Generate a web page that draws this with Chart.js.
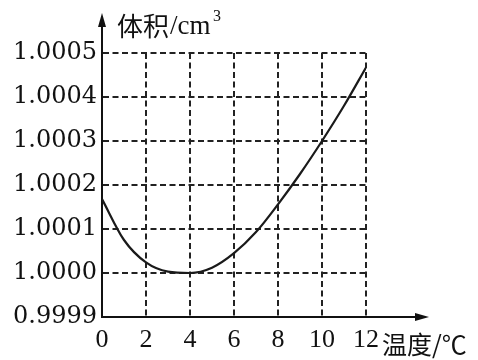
<!DOCTYPE html>
<html>
<head>
<meta charset="utf-8">
<script src="https://cdn.jsdelivr.net/npm/chart.js@4/dist/chart.umd.min.js"></script>
<style>
  body { margin: 0; background: #fff; }
  canvas { display: block; }
</style>
</head>
<body>
<canvas id="myChart" width="478" height="360"></canvas>
<script>
"use strict";

// temperature (°C) and volume (cm³)
var temps = [0, 1, 2, 3, 4, 5, 6, 7, 8, 9, 10, 11, 12];
var volumes = [1.000168, 1.000075, 1.000024, 1.000003, 1.0000, 1.000012, 1.000045,
               1.000093, 1.000156, 1.000225, 1.0003, 1.00038, 1.000467];
var xTicks = [0, 2, 4, 6, 8, 10, 12];
var yTicks = [0.9999, 1.0000, 1.0001, 1.0002, 1.0003, 1.0004, 1.0005];
var yTickLabels = ['0.9999', '1.0000', '1.0001', '1.0002', '1.0003', '1.0004', '1.0005'];
var yTitle = '体积/cm';
var xTitle = '温度/℃';

var axisExtras = {
    id: 'axisExtras',
    afterDraw: function (chart) {
        var c = chart.ctx;
        var a = chart.chartArea;
        c.save();
        c.strokeStyle = '#111';
        c.fillStyle = '#111';
        c.lineWidth = 2;
        // y arrow
        c.beginPath();
        c.moveTo(a.left, a.top);
        c.lineTo(a.left, 22);
        c.stroke();
        c.beginPath();
        c.moveTo(a.left, 13);
        c.lineTo(a.left - 4, 27);
        c.lineTo(a.left + 4, 27);
        c.closePath();
        c.fill();
        // x arrow
        c.beginPath();
        c.moveTo(a.right, a.bottom);
        c.lineTo(420, a.bottom);
        c.stroke();
        c.beginPath();
        c.moveTo(429, a.bottom);
        c.lineTo(415, a.bottom - 4);
        c.lineTo(415, a.bottom + 4);
        c.closePath();
        c.fill();
        // titles
        c.textBaseline = 'middle';
        c.textAlign = 'left';
        c.font = '26px "Noto Sans CJK SC"';
        c.fillText('体积', 117, 26);
        c.font = '27px "Liberation Serif"';
        c.fillText('/cm', 170, 27);
        c.font = '16px "Liberation Serif"';
        c.fillText('3', 213, 17);
        c.font = '25px "Noto Sans CJK SC"';
        c.fillText(xTitle, 382, 344);
        c.restore();
    }
};

var ctx = document.querySelector('#myChart').getContext('2d');

var myChart = new Chart(ctx, {
    type: 'line',
    data: {
        labels: temps,
        datasets: [{
            data: temps.map(function (t, i) { return { x: t, y: volumes[i] }; }),
            borderColor: '#1a1a1a',
            borderWidth: 2.2,
            pointRadius: 0,
            cubicInterpolationMode: 'monotone',
            fill: false
        }]
    },
    options: {
        responsive: false,
        animation: false,
        layout: {
            padding: { left: 0, right: 112, top: 53, bottom: 0 }
        },
        plugins: {
            legend: false,
            tooltip: { enabled: false }
        },
        scales: {
            x: {
                type: 'linear',
                min: 0,
                max: 12,
                afterBuildTicks: function (scale) {
                    scale.ticks = xTicks.map(function (v) { return { value: v }; });
                },
                afterFit: function (scale) { scale.height = 43; },
                grid: { color: '#222', lineWidth: 2, drawTicks: false },
                border: { display: true, color: '#111', width: 2, dash: [6, 3.5] },
                ticks: {
                    color: '#111',
                    padding: 8,
                    maxRotation: 0,
                    font: { family: '"Liberation Serif"', size: 26 },
                    callback: function (v) { return String(v); }
                }
            },
            y: {
                type: 'linear',
                min: 0.9999,
                max: 1.0005,
                afterBuildTicks: function (scale) {
                    scale.ticks = yTicks.map(function (v) { return { value: v }; });
                },
                afterFit: function (scale) { scale.width = 102; },
                grid: { color: '#222', lineWidth: 2, drawTicks: false },
                border: { display: true, color: '#111', width: 2, dash: [6, 3.5] },
                ticks: {
                    color: '#111',
                    padding: 5,
                    font: { family: '"DejaVu Serif"', size: 24 },
                    callback: function (v, i) { return yTickLabels[i]; }
                }
            }
        }
    },
    plugins: [axisExtras]
});
</script>
</body>
</html>
